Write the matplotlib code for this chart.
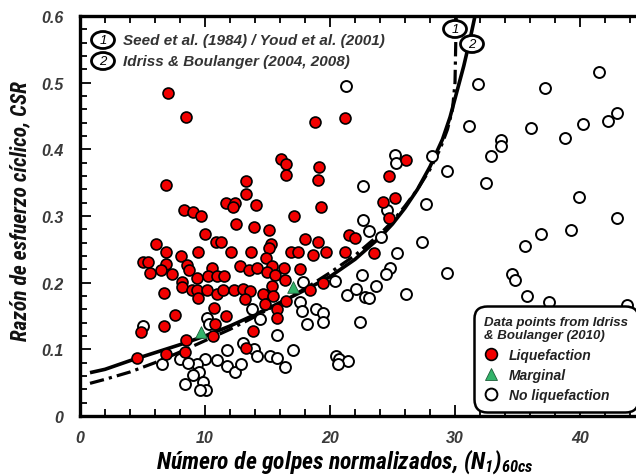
import matplotlib
matplotlib.use("Agg")
import matplotlib.pyplot as plt
from matplotlib import font_manager
from matplotlib.lines import Line2D
from matplotlib.patches import Ellipse
from matplotlib.ticker import MultipleLocator, FuncFormatter

# Case-history data (N1)60cs vs CSR
liq_n = [7.0, 8.45, 6.85, 18.8, 21.2, 16.05, 16.5, 16.45, 19.1, 19.0, 19.3,
         13.3, 13.3, 11.7, 12.4, 12.2, 14.1, 8.3, 9.07, 9.65, 17.1,
         12.5, 13.9, 15.1, 10.0, 6.08, 10.9, 11.3, 15.3, 18.0, 19.0, 21.5, 22.0,
         6.9, 8.05, 9.47, 12.05, 13.7, 15.1, 16.85, 17.4, 18.6, 19.7, 21.2, 14.9,
         5.07, 5.44, 6.88, 8.53, 6.5, 5.6, 7.33, 8.75, 10.56,
         9.33, 10.27, 10.93, 11.5, 12.8, 13.55, 14.13,
         15.33, 14.93, 16.3, 17.6, 15.57, 16.37,
         8.16, 8.13, 8.96, 9.39, 9.44, 10.13, 10.93, 11.41, 12.32, 13.07, 13.6,
         13.23, 14.61, 15.36, 15.47, 14.83, 15.73, 15.73, 18.4, 19.41, 6.72,
         10.72, 11.65, 7.6, 6.75, 4.9, 10.83, 8.48, 10.67, 13.81, 13.28, 8.43,
         6.88, 4.59, 16.5,
         26.08, 24.69, 24.27, 25.17, 24.69, 23.52]
liq_csr = [0.485, 0.448, 0.347, 0.441, 0.447, 0.385, 0.378, 0.361, 0.374, 0.354, 0.314,
           0.352, 0.333, 0.320, 0.319, 0.3135, 0.3165, 0.3095, 0.3055, 0.3005, 0.3005,
           0.2875, 0.2835, 0.2795, 0.2725, 0.2585, 0.2605, 0.2615, 0.2585, 0.2655, 0.2615, 0.2715, 0.2665,
           0.2465, 0.2405, 0.2465, 0.2455, 0.2465, 0.2515, 0.2465, 0.2465, 0.2415, 0.2465, 0.2465, 0.2365,
           0.2315, 0.2315, 0.2275, 0.2265, 0.2185, 0.2145, 0.213, 0.2185, 0.2215,
           0.2065, 0.2105, 0.2105, 0.2095, 0.2255, 0.2195, 0.2225,
           0.2255, 0.2155, 0.2215, 0.2205, 0.2115, 0.2035,
           0.2005, 0.193, 0.1895, 0.1895, 0.1765, 0.1885, 0.1825, 0.1885, 0.1885, 0.1905, 0.1875,
           0.1755, 0.1835, 0.1945, 0.1795, 0.1675, 0.1605, 0.1475, 0.1895, 0.1995, 0.1845,
           0.1615, 0.1505, 0.1515, 0.1345, 0.1255, 0.1375, 0.1145, 0.1195, 0.1275, 0.1015, 0.0955,
           0.0925, 0.0865, 0.172,
           0.3845, 0.3595, 0.3215, 0.3275, 0.2975, 0.2445]

marg_n = [9.65, 17.07]
marg_csr = [0.1255, 0.1935]

noliq_n = [21.3, 5.07, 10.13, 10.3, 13.76, 14.4, 17.87, 17.6, 17.73, 18.19, 18.88,
           19.47, 19.41, 20.43, 21.33, 22.1, 22.4, 15.73, 17.07, 13.07, 13.92, 14.13,
           15.2, 15.79, 16.43, 11.73, 10.99, 11.73, 12.37, 12.85, 10.03, 9.39, 9.55,
           9.07, 9.81, 10.1, 9.63, 8.43, 8.0, 8.67, 6.56, 20.5, 20.7, 21.4, 20.6,
           31.84, 37.23, 41.55, 31.09, 36.05, 33.71, 33.65, 32.91, 32.48, 38.83,
           40.27, 42.24, 42.93, 29.33, 28.16, 39.95, 42.93, 39.31, 36.85, 35.57,
           27.36, 29.33, 34.56, 34.83, 35.73, 37.55, 43.73, 26.08, 25.33, 25.23,
           25.28, 22.61, 27.68, 24.59, 22.67, 23.15, 24.1, 22.56, 24.8, 24.48,
           23.68, 22.83, 23.15]
noliq_csr = [0.495, 0.1345, 0.1475, 0.138, 0.1605, 0.1455, 0.2015, 0.1705, 0.158, 0.1385, 0.1605,
             0.1545, 0.1415, 0.2025, 0.1815, 0.1905, 0.1405, 0.1215, 0.0995, 0.1095, 0.1005, 0.0905,
             0.0895, 0.0865, 0.0735, 0.0985, 0.0835, 0.0745, 0.0665, 0.0785, 0.0855, 0.0785, 0.0665,
             0.0615, 0.0505, 0.0395, 0.039, 0.0475, 0.0855, 0.0795, 0.0775, 0.0905, 0.0855, 0.0825, 0.078,
             0.4985, 0.4925, 0.5155, 0.4355, 0.4325, 0.4145, 0.4055, 0.3905, 0.3495, 0.4175,
             0.4385, 0.4425, 0.4545, 0.3675, 0.3895, 0.3285, 0.2965, 0.2795, 0.2735, 0.2545,
             0.2615, 0.2145, 0.2135, 0.2045, 0.1795, 0.1705, 0.1665, 0.1825, 0.2445, 0.3915,
             0.3795, 0.3445, 0.3175, 0.3095, 0.2935, 0.2775, 0.268, 0.2115, 0.2215, 0.2125,
             0.1945, 0.1785, 0.1775]

# Triggering curves
ib_n = [0.8, 2, 4, 6, 8, 10, 12, 14, 16, 18, 20, 22, 24, 25, 26, 27, 28, 29,
        29.6, 30.2, 30.7, 31.2, 31.6]
ib_csr = [0.065, 0.070, 0.083, 0.095, 0.107, 0.120, 0.135, 0.152, 0.170, 0.189,
          0.209, 0.235, 0.268, 0.288, 0.312, 0.340, 0.374, 0.415, 0.448, 0.490,
          0.525, 0.565, 0.600]
youd_n = [0.8, 2, 4, 6, 8, 10, 12, 14, 16, 18, 20, 22, 24, 25, 26, 27, 28, 28.8,
          29.4, 29.8, 30.0, 30.1]
youd_csr = [0.049, 0.055, 0.066, 0.080, 0.096, 0.113, 0.130, 0.149, 0.170, 0.191,
            0.215, 0.241, 0.273, 0.292, 0.315, 0.340, 0.370, 0.400, 0.430, 0.460,
            0.500, 0.600]

curve_labels = ["Seed et al. (1984) / Youd et al. (2001)",
                "Idriss & Boulanger (2004, 2008)"]
legend_title = "Data points from Idriss\n& Boulanger (2010)"
legend_labels = ["Liquefaction", "Marginal", "No liquefaction"]
x_label = "Número de golpes normalizados, $(N_1)_{60cs}$"
y_label = "Razón de esfuerzo cíclico, CSR"

# pick a condensed face for the axis titles when one is installed
installed = {f.name for f in font_manager.fontManager.ttflist}
narrow_name = None
for cand in ["Liberation Sans Narrow", "Arial Narrow", "Roboto Condensed",
             "Open Sans Condensed", "Nimbus Sans Narrow"]:
    if cand in installed:
        narrow_name = cand
        break
if narrow_name:
    title_family = [narrow_name, "DejaVu Sans"]
    xlab_size, ylab_size = 17, 15.5
    math_face = narrow_name
else:
    title_family = ["Liberation Sans", "DejaVu Sans"]
    xlab_size, ylab_size = 13.5, 14
    math_face = "Liberation Sans"

plt.rcParams["font.family"] = ["Liberation Sans", "DejaVu Sans"]
plt.rcParams["mathtext.fontset"] = "custom"
plt.rcParams["mathtext.rm"] = f"{math_face}:bold:italic"
plt.rcParams["mathtext.it"] = f"{math_face}:bold:italic"
plt.rcParams["mathtext.bf"] = f"{math_face}:bold:italic"

fig = plt.figure(figsize=(6.36, 4.77), dpi=100)
ax = fig.add_axes([80 / 636, 60 / 477, 556 / 636, 400 / 477])

ax.plot(ib_n, ib_csr, color="black", lw=2.6, zorder=2, solid_capstyle="butt")
ax.plot(youd_n, youd_csr, color="black", lw=2.3, zorder=2,
        dashes=(4.5, 1.6, 1.0, 1.6))

ax.scatter(noliq_n, noliq_csr, s=62, facecolor="white", edgecolor="black",
           linewidth=1.4, zorder=3)
ax.scatter(liq_n, liq_csr, s=62, facecolor="#f20000", edgecolor="black",
           linewidth=1.2, zorder=4)
ax.scatter(marg_n, marg_csr, s=70, marker="^", facecolor="#33b36a",
           edgecolor="#1d5c38", linewidth=0.6, zorder=5)

ax.set_xlim(0, 44.48)
ax.set_ylim(0, 0.6)
ax.xaxis.set_major_locator(MultipleLocator(10))
ax.xaxis.set_minor_locator(MultipleLocator(2))
ax.yaxis.set_major_locator(MultipleLocator(0.1))
ax.yaxis.set_minor_locator(MultipleLocator(0.02))
ax.tick_params(which="both", direction="in", top=True, right=False,
               width=1.3, colors="black")
ax.tick_params(which="major", length=8)
ax.tick_params(which="minor", length=5)
ax.tick_params(axis="x", which="major", pad=10)
ax.tick_params(axis="y", which="major", pad=12)

ax.yaxis.set_major_formatter(FuncFormatter(lambda v, _: "0" if abs(v) < 1e-9 else f"{v:.1f}"))
ax.xaxis.set_major_formatter(FuncFormatter(lambda v, _: f"{v:.0f}"))
for lab in ax.get_xticklabels() + ax.get_yticklabels():
    lab.set_fontweight("bold")
    lab.set_fontstyle("italic")
    lab.set_fontsize(11.5)
    lab.set_color("#3a3a3a")

for side in ["left", "bottom", "top"]:
    ax.spines[side].set_linewidth(2.4)
ax.spines["right"].set_visible(False)

ax.set_xlabel(x_label, family=title_family, fontsize=xlab_size, fontweight="bold",
              fontstyle="italic")
ax.xaxis.set_label_coords((345 - 80) / 556, -0.076)
ax.set_ylabel(y_label, family=title_family, fontsize=ylab_size, fontweight="bold",
              fontstyle="italic", color="#111111")
ax.yaxis.set_label_coords(-0.088, 0.515)

# circled curve labels, key in the upper left
def circled(x, y, num, clip=True):
    e = Ellipse((x, y), 23 / 556, 17 / 400, transform=ax.transAxes,
                facecolor="white", edgecolor="black", lw=2.0, zorder=6,
                clip_on=clip)
    ax.add_patch(e)
    ax.text(x, y, num, transform=ax.transAxes, ha="center", va="center",
            fontsize=9.5, fontstyle="italic", zorder=7, clip_on=False)

circled(23 / 556, (417 - 41) / 400, "1")
circled(23 / 556, (417 - 62) / 400, "2")
for lbl, yy in zip(curve_labels, [41, 62]):
    ax.text(43 / 556, (417 - yy) / 400, lbl, transform=ax.transAxes,
            ha="left", va="center", fontsize=11, fontweight="bold",
            fontstyle="italic", color="#333333")
circled((455 - 80) / 556, (417 - 30) / 400, "1", clip=False)
circled((472 - 80) / 556, (417 - 45) / 400, "2", clip=False)

handles = [
    Line2D([], [], ls="none", marker="o", markersize=8.5, markerfacecolor="#f20000",
           markeredgecolor="black", markeredgewidth=1.2),
    Line2D([], [], ls="none", marker="^", markersize=9, markerfacecolor="#33b36a",
           markeredgecolor="#1d5c38", markeredgewidth=0.6),
    Line2D([], [], ls="none", marker="o", markersize=8.5, markerfacecolor="white",
           markeredgecolor="black", markeredgewidth=1.4),
]
leg = ax.legend(handles, legend_labels, title=legend_title, loc="lower left",
                bbox_to_anchor=((477 - 80) / 556, 7 / 400), frameon=True,
                prop=dict(weight="bold", style="italic", size=10),
                title_fontproperties=dict(weight="bold", style="italic", size=9.5),
                alignment="left", handlelength=1.0, handletextpad=0.8,
                labelspacing=0.45, borderpad=0.5, borderaxespad=0,
                fancybox=True, framealpha=1)
leg.get_frame().set_edgecolor("black")
leg.get_frame().set_linewidth(1.8)
leg.get_frame().set_boxstyle("round,pad=0.2,rounding_size=0.9")
leg.set_zorder(8)
for t in leg.get_texts():
    t.set_color("#222222")
leg.get_title().set_color("#222222")

fig.savefig("out.png", dpi=100)
